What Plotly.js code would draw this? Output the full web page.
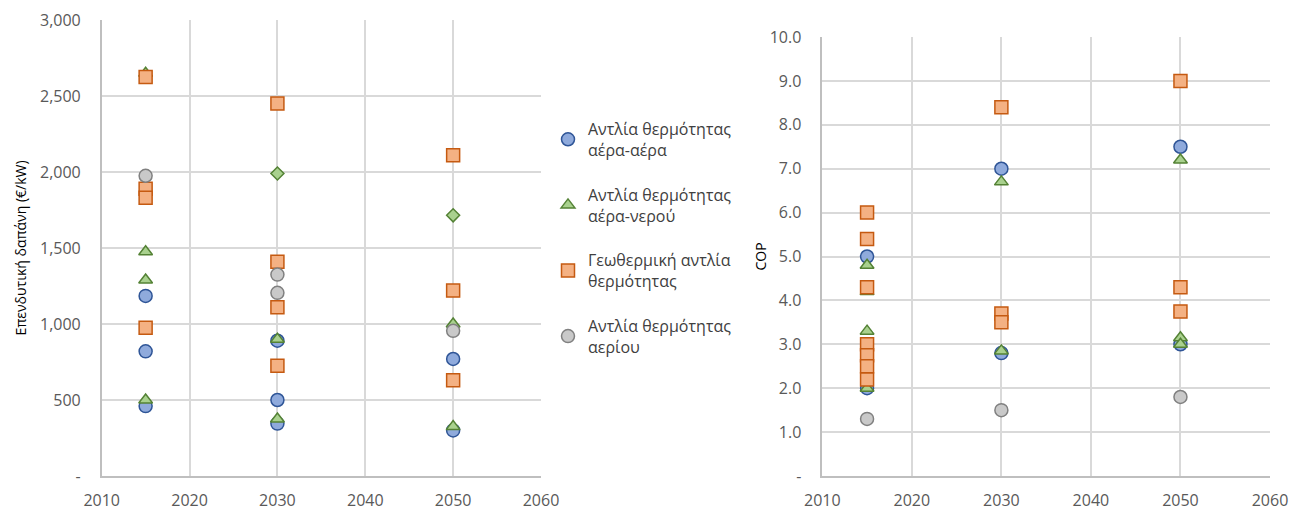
<!DOCTYPE html>
<html>
<head>
<meta charset="utf-8">
<script src="https://cdn.plot.ly/plotly-3.0.1.min.js"></script>
<style>html,body{margin:0;padding:0;background:#fff;}#chart{width:1289px;height:510px;}</style>
</head>
<body>
<div id="chart"></div>
<script>
// ---- Data ----
const seriesNames = [
  "Αντλία θερμότητας<br>αέρα-αέρα",
  "Αντλία θερμότητας<br>αέρα-νερού",
  "Γεωθερμική αντλία<br>θερμότητας",
  "Αντλία θερμότητας<br>αερίου"
];

// Left panel: investment cost (€/kW)
const costAirAirX = [2015, 2015, 2015, 2030, 2030, 2030, 2050, 2050];
const costAirAirY = [1185, 820, 460, 890, 500, 345, 770, 300];
const costAirWaterX = [2015, 2015, 2015, 2015, 2030, 2030, 2050, 2050];
const costAirWaterY = [2650, 1475, 1290, 500, 900, 375, 1000, 325];
const costGeoX = [2015, 2015, 2015, 2015, 2030, 2030, 2030, 2030, 2050, 2050, 2050];
const costGeoY = [2625, 1890, 1830, 975, 2450, 1410, 1110, 725, 2110, 1220, 630];
const costGasX = [2015, 2030, 2030, 2050];
const costGasY = [1975, 1325, 1205, 955];
const costDiamondX = [2030, 2050];
const costDiamondY = [1990, 1715];

// Right panel: COP
const copAirAirX = [2015, 2015, 2030, 2030, 2050, 2050];
const copAirAirY = [5.0, 2.0, 7.0, 2.8, 7.5, 3.0];
const copAirWaterX = [2015, 2015, 2015, 2015, 2030, 2030, 2050, 2050, 2050];
const copAirWaterY = [4.8, 4.2, 3.3, 2.0, 6.7, 2.85, 7.2, 3.15, 3.0];
const copGeoX = [2015, 2015, 2015, 2015, 2015, 2015, 2015, 2030, 2030, 2030, 2050, 2050, 2050];
const copGeoY = [6.0, 5.4, 4.3, 3.0, 2.75, 2.5, 2.2, 8.4, 3.7, 3.5, 9.0, 4.3, 3.75];
const copGasX = [2015, 2030, 2050];
const copGasY = [1.3, 1.5, 1.8];

// Axis ticks
const xTicks = [2010, 2020, 2030, 2040, 2050, 2060];
const costTickVals = [0, 500, 1000, 1500, 2000, 2500, 3000];
const costTickText = ["-", "500", "1,000", "1,500", "2,000", "2,500", "3,000"];
const copTickVals = [0, 1, 2, 3, 4, 5, 6, 7, 8, 9, 10];
const copTickText = ["-", "1.0", "2.0", "3.0", "4.0", "5.0", "6.0", "7.0", "8.0", "9.0", "10.0"];

// ---- Styles ----
const styles = [
  {symbol: "circle", size: 13, color: "#8FAADC", line: "#2F5597"},
  {symbol: "triangle-up", size: 12, color: "#A9D18E", line: "#548235"},
  {symbol: "square", size: 13, color: "#F4B183", line: "#C55A11"},
  {symbol: "circle", size: 13, color: "#C9C9C9", line: "#808080"}
];
const diamondStyle = {symbol: "diamond", size: 10, color: "#A9D18E", line: "#548235"};

function mk(x, y, st, name, xa, ya, showlegend, group) {
  return {
    type: "scatter", mode: "markers", x: x, y: y, name: name,
    xaxis: xa, yaxis: ya, showlegend: showlegend, legendgroup: group,
    marker: {symbol: st.symbol, size: st.size, color: st.color, line: {color: st.line, width: 1.5}},
    hoverinfo: "x+y"
  };
}

const traces = [
  mk(costAirAirX, costAirAirY, styles[0], seriesNames[0], "x", "y", true, "g1"),
  mk(costAirWaterX, costAirWaterY, styles[1], seriesNames[1], "x", "y", true, "g2"),
  mk(costDiamondX, costDiamondY, diamondStyle, "diamond", "x", "y", false, "g5"),
  mk(costGeoX, costGeoY, styles[2], seriesNames[2], "x", "y", true, "g3"),
  mk(costGasX, costGasY, styles[3], seriesNames[3], "x", "y", true, "g4"),
  mk(copAirAirX, copAirAirY, styles[0], seriesNames[0], "x2", "y2", false, "g1"),
  mk(copAirWaterX, copAirWaterY, styles[1], seriesNames[1], "x2", "y2", false, "g2"),
  mk(copGeoX, copGeoY, styles[2], seriesNames[2], "x2", "y2", false, "g3"),
  mk(copGasX, copGasY, styles[3], seriesNames[3], "x2", "y2", false, "g4")
];

const W = 1289, H = 510;
const FONT = "Open Sans, Liberation Sans, sans-serif";
const tickFont = {family: FONT, size: 16, color: "#595959"};
const gridC = "#D9D9D9", lineC = "#BFBFBF";

function xaxis(l, r) {
  return {
    domain: [l / W, r / W], range: [2010, 2060], tickvals: xTicks, ticktext: xTicks.map(String),
    showgrid: true, gridcolor: gridC, gridwidth: 1.5, zeroline: false,
    showline: true, linecolor: lineC, linewidth: 1.5, ticks: "", ticklabelstandoff: 9,
    tickfont: tickFont, fixedrange: true, automargin: false
  };
}
function yaxis(t, b, vals, text, title, standoff, anchor) {
  return {
    domain: [1 - b / H, 1 - t / H], range: [vals[0], vals[vals.length - 1]],
    tickvals: vals, ticktext: text, anchor: anchor,
    showgrid: true, gridcolor: gridC, gridwidth: 1.5, zeroline: false,
    showline: true, linecolor: lineC, linewidth: 1.5, ticks: "", ticklabelstandoff: 16,
    tickfont: tickFont, fixedrange: true, automargin: false,
    title: {text: title, standoff: standoff, font: {family: FONT, size: 14, color: "#000"}}
  };
}

const layout = {
  width: W, height: H,
  margin: {l: 0, r: 0, t: 0, b: 0},
  paper_bgcolor: "#fff", plot_bgcolor: "#fff",
  showlegend: true,
  xaxis: xaxis(101.7, 541),
  yaxis: yaxis(20, 476, costTickVals, costTickText, "Επενδυτική δαπάνη (€/kW)", 10, "x"),
  xaxis2: Object.assign(xaxis(822.3, 1270), {anchor: "y2"}),
  yaxis2: yaxis(37, 476, copTickVals, copTickText, "COP", 0, "x2"),
  legend: {
    x: 548 / W, y: 1 - 112 / H, xanchor: "left", yanchor: "top",
    traceorder: "grouped", tracegroupgap: 21,
    font: {family: FONT, size: 16, color: "#404040"},
    bgcolor: "rgba(0,0,0,0)", itemclick: false, itemdoubleclick: false
  },
  hovermode: "closest"
};

Plotly.newPlot("chart", traces, layout, {displayModeBar: false});
</script>
</body>
</html>
